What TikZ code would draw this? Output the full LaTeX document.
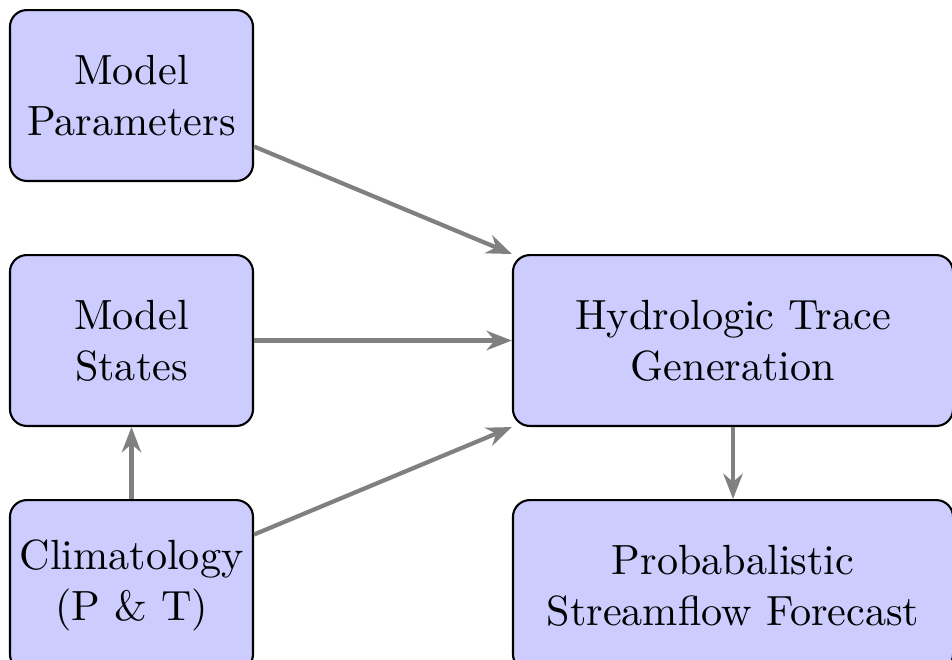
\documentclass[tikz,border=0pt]{standalone}
\usepackage{tikz}
\usetikzlibrary{arrows.meta, positioning}
\definecolor{boxFill}{RGB}{204, 204, 255}
\definecolor{flowGray}{RGB}{128, 128, 128}

\begin{document}
\begin{tikzpicture}[
    block/.style={
        rectangle, rounded corners=4pt, minimum width=#1, minimum height=40.5pt,
        align=center, inner sep=1pt, draw=black, fill=boxFill, line width=0.5pt
    },
    block/.default=57.6pt,
    arrow/.style={-{Stealth[length=6pt, width=4.6pt]}, line width=1pt, draw=flowGray}
]
\useasboundingbox (0,0) rectangle (225.6pt,-156.2pt);
% inputs (left column)
\node[block] (params) at (31.16pt,-22.63pt) {Model\\Parameters};
\node[block, below=17.06pt of params] (states) {Model\\States};
\node[block, below=17.06pt of states] (climate) {Climatology\\(P \& T)};
% trace generation and forecast (right column)
\node[block=104.3pt, right=61.1pt of states] (traces) {Hydrologic Trace\\Generation};
\node[block=104.3pt, below=17.06pt of traces] (forecast) {Probabalistic\\Streamflow Forecast};
\draw[arrow] (params) -- (traces.north west);
\draw[arrow] (states.east) -- (traces.west);
\draw[arrow] (climate) -- (traces.south west);
\draw[arrow] (climate.north) -- (states.south);
\draw[arrow] (traces.south) -- (forecast.north);
\end{tikzpicture}
\end{document}
